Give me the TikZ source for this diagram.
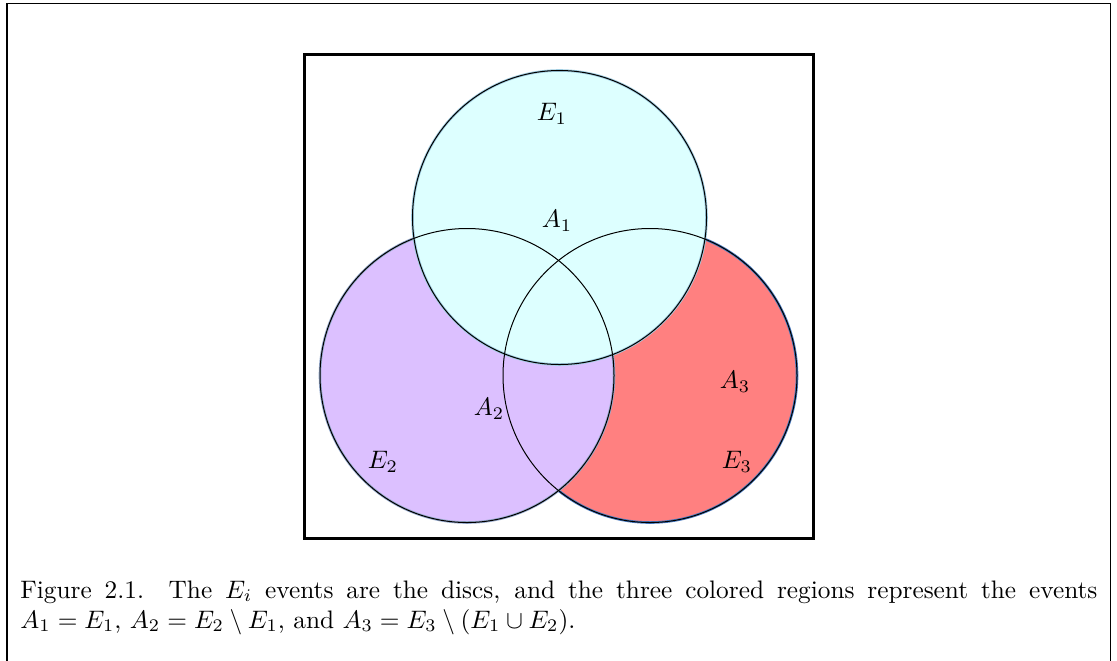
\documentclass[tikz,border=0pt]{standalone}
\usepackage{amsmath,amssymb}
\usepackage{graphicx}
\definecolor{cE1}{RGB}{221,255,255}
\definecolor{cE2}{RGB}{220,192,255}
\definecolor{cE3}{RGB}{255,128,128}
\definecolor{hE1}{RGB}{160,205,225}
\definecolor{hE2}{RGB}{150,170,205}
\definecolor{hE3}{RGB}{70,120,190}
\newcommand{\bigtxt}[1]{\scalebox{1.265}{\fontsize{10}{12}\selectfont #1}}
\tikzset{
  disc/.style={line width=1.3pt},
  rim/.style={draw=black, line width=0.5pt},
  lbl/.style={inner sep=0pt},
  captext/.style={inner sep=0pt, anchor=base west}
}
\begin{document}
\begin{tikzpicture}[x=0.5pt,y=-0.5pt]
\useasboundingbox (0,0) rectangle (1117,660);
% outer frame (open at the bottom)
\draw[line width=0.6pt] (7,670) -- (7,3.5) -- (1110.5,3.5) -- (1110.5,670);
% inner thick frame
\draw[line width=1.5pt] (304.3,54) rectangle (813.7,538);
% discs
\coordinate (c1) at (559.5,217.5);
\coordinate (c2) at (467,375.5);
\coordinate (c3) at (650,375.5);
\filldraw[disc, fill=cE3, draw=hE3] (c3) circle[radius=147];
\filldraw[disc, fill=cE2, draw=hE2] (c2) circle[radius=147];
\filldraw[disc, fill=cE1, draw=hE1] (c1) circle[radius=147];
\draw[rim] (c3) circle[radius=147];
\draw[rim] (c2) circle[radius=147];
\draw[rim] (c1) circle[radius=147];
% labels
\node[lbl] (e1) at (552,114) {\bigtxt{$E_1$}};
\node[lbl] (a1) at (557,221) {\bigtxt{$A_1$}};
\node[lbl] (a2) at (489,409) {\bigtxt{$A_2$}};
\node[lbl] (e2) at (383,462) {\bigtxt{$E_2$}};
\node[lbl] (a3) at (735,382) {\bigtxt{$A_3$}};
\node[lbl] (e3) at (737,462) {\bigtxt{$E_3$}};
% caption
\node[captext] (cap1) at (20,598) {\bigtxt{\makebox[425.7pt][s]{Figure 2.1. The $E_i$ events are the discs, and the three colored regions represent the events}}};
\node[captext] (cap2) at (20,628) {\bigtxt{$A_1 = E_1$, $A_2 = E_2 \setminus E_1$, and $A_3 = E_3 \setminus (E_1 \cup E_2)$.}};
\end{tikzpicture}
\end{document}
